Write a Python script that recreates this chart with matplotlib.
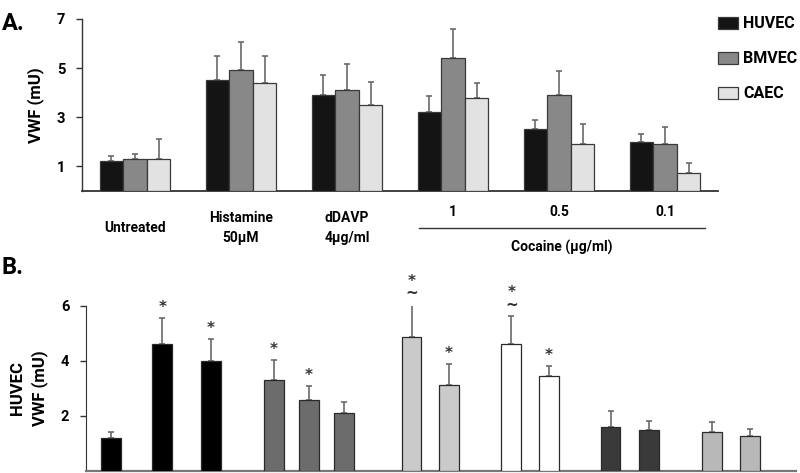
import matplotlib
matplotlib.use("Agg")
import matplotlib.pyplot as plt
import numpy as np
from matplotlib.patches import Patch

plt.rcParams['font.family'] = ['Roboto', 'DejaVu Sans']
plt.rcParams['font.weight'] = 'bold'

# ---------------- Panel A data ----------------
groups_a = ["Untreated", "Histamine\n50\u03bcM", "dDAVP\n4\u03bcg/ml", "1", "0.5", "0.1"]
series_a = ["HUVEC", "BMVEC", "CAEC"]
huvec_a = [1.2, 4.5, 3.9, 3.2, 2.5, 2.0]
huvec_a_err = [0.2, 1.0, 0.8, 0.65, 0.37, 0.33]
bmvec_a = [1.3, 4.9, 4.1, 5.4, 3.9, 1.9]
bmvec_a_err = [0.2, 1.15, 1.05, 1.2, 0.97, 0.68]
caec_a = [1.3, 4.4, 3.5, 3.78, 1.9, 0.74]
caec_a_err = [0.8, 1.1, 0.93, 0.6, 0.82, 0.39]
colors_a = ["#141414", "#888888", "#e2e2e2"]
yticks_a = [1, 3, 5, 7]

# ---------------- Panel B data ----------------
values_b = [1.18, 4.6, 4.0, 3.3, 2.57, 2.11, 4.84, 3.12, 4.61, 3.44, 1.6, 1.48, 1.41, 1.26]
errors_b = [0.22, 0.96, 0.78, 0.73, 0.51, 0.38, 1.22, 0.75, 1.02, 0.38, 0.56, 0.34, 0.35, 0.24]
colors_b = ["#000000"] * 3 + ["#6c6c6c"] * 3 + ["#cacaca"] * 2 + ["#ffffff"] * 2 + ["#3a3a3a"] * 2 + ["#b8b8b8"] * 2
marks_b = ["", "*", "*", "*", "*", "", "*\n~", "*", "*\n~", "*", "", "", "", ""]
xpos_b = [0.67, 2.03, 3.33, 5.0, 5.93, 6.87, 8.67, 9.67, 11.33, 12.33, 13.97, 15.0, 16.67, 17.68]
yticks_b = [2, 4, 6]

fig = plt.figure(figsize=(8, 4.73), dpi=100)

# ---------------- Panel A ----------------
axA = fig.add_axes([0.1025, 0.5968, 0.795, 0.3631])
x = np.arange(len(groups_a))
w = 0.222
for i, (vals, errs, c) in enumerate(zip([huvec_a, bmvec_a, caec_a],
                                         [huvec_a_err, bmvec_a_err, caec_a_err], colors_a)):
    pos = x + (i - 1) * w
    axA.bar(pos, vals, width=w, color=c, edgecolor="#3a3a3a", linewidth=0.9, zorder=3)
    axA.errorbar(pos, vals, yerr=[np.zeros(len(vals)), errs], fmt='none',
                 ecolor="#6a6a6a", elinewidth=1.2, capsize=2.5, capthick=1.2, zorder=2)
axA.set_xlim(-0.5, 5.5)
axA.set_ylim(0, 7)
axA.set_yticks(yticks_a)
axA.set_yticklabels([str(t) for t in yticks_a], fontsize=10.5, fontweight='bold')
axA.set_xticks([])
for s in ["top", "right"]:
    axA.spines[s].set_visible(False)
axA.spines["left"].set_color("#333333")
axA.spines["bottom"].set_color("#333333")
axA.spines["left"].set_linewidth(1.0)
axA.spines["bottom"].set_linewidth(1.3)
axA.tick_params(axis='y', length=4, width=1, color="#333333", pad=8)
axA.set_ylabel("VWF (mU)", fontsize=12, fontweight='bold', labelpad=9)

tr = axA.get_xaxis_transform()
for i, g in enumerate(groups_a):
    if i < 3:
        axA.text(i, -0.215, g, transform=tr, ha='center', va='center',
                 fontsize=10, fontweight='bold', linespacing=1.55)
    else:
        axA.text(i, -0.125, g, transform=tr, ha='center', va='center',
                 fontsize=10, fontweight='bold')
axA.plot([2.68, 5.38], [-0.217, -0.217], transform=tr, color="#333333",
         lw=1.0, clip_on=False)
axA.text(4.03, -0.33, "Cocaine (\u03bcg/ml)", transform=tr, ha='center', va='center',
         fontsize=10, fontweight='bold')

handles = [Patch(facecolor=c, edgecolor="#3a3a3a", linewidth=0.9) for c in colors_a]
fig.legend(handles, series_a, loc='upper left', bbox_to_anchor=(0.893, 0.972),
           frameon=False, prop={'size': 11.5, 'weight': 'bold'},
           handlelength=1.3, handleheight=0.75, handletextpad=0.3, labelspacing=1.25,
           borderaxespad=0, borderpad=0.2)

fig.text(0.002, 0.95, "A.", fontsize=17, fontweight='bold', va='center')
fig.text(0.002, 0.435, "B.", fontsize=17, fontweight='bold', va='center')

# ---------------- Panel B ----------------
axB = fig.add_axes([0.1075, 0.005, 0.887, 0.349])
wb = 0.53
axB.bar(xpos_b, values_b, width=wb, color=colors_b, edgecolor="#2a2a2a", linewidth=0.9, zorder=3)
axB.errorbar(xpos_b, values_b, yerr=[np.zeros(len(values_b)), errors_b], fmt='none',
             ecolor="#6a6a6a", elinewidth=1.2, capsize=2.5, capthick=1.2, zorder=2)
for xp, v, e, m in zip(xpos_b, values_b, errors_b, marks_b):
    if m:
        axB.annotate(m, (xp, v + e), xytext=(0, 2), textcoords='offset points',
                     ha='center', va='bottom', fontsize=11, fontweight='bold',
                     color="#333333", linespacing=0.8, family='DejaVu Sans',
                     annotation_clip=False)
axB.set_xlim(0, 18.9)
axB.set_ylim(0, 6)
axB.set_yticks(yticks_b)
axB.set_yticklabels([str(t) for t in yticks_b], fontsize=10.5, fontweight='bold')
axB.set_xticks([])
for s in ["top", "right"]:
    axB.spines[s].set_visible(False)
axB.spines["left"].set_color("#333333")
axB.spines["bottom"].set_color("#777777")
axB.spines["bottom"].set_linewidth(1.6)
axB.tick_params(axis='y', length=4, width=1, color="#333333", pad=8)
axB.set_ylabel("HUVEC\nVWF (mU)", fontsize=12, fontweight='bold', labelpad=9, linespacing=1.5)

fig.savefig("out.png", dpi=100)
